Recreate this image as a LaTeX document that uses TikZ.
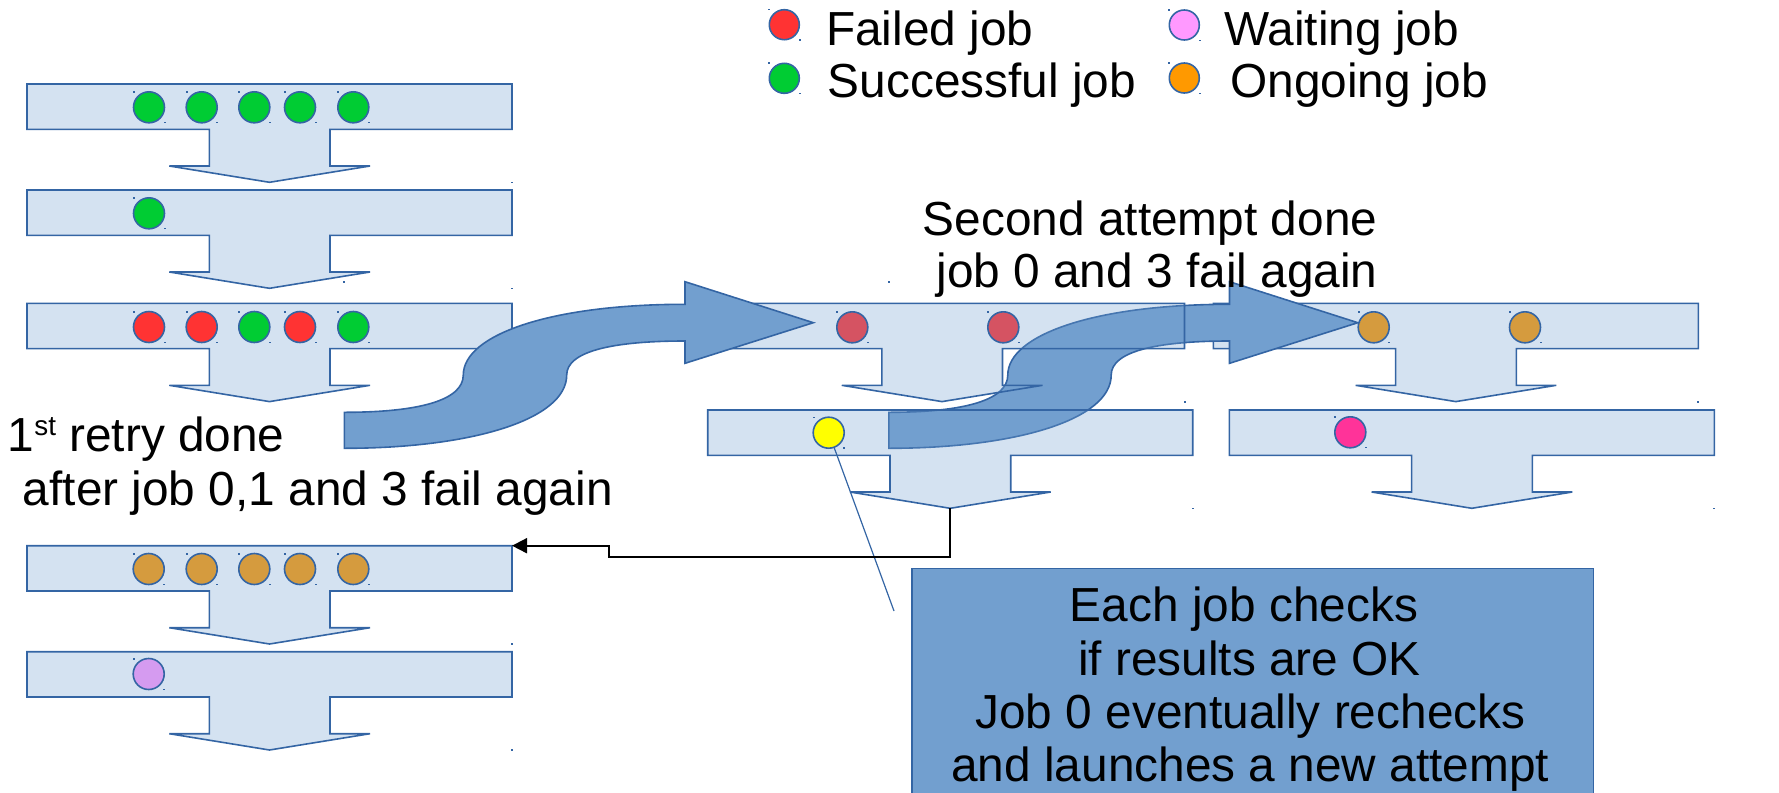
\documentclass[tikz,border=0pt]{standalone}
\usepackage{fontspec}
\setmainfont{Liberation Sans}
\usetikzlibrary{arrows.meta}

\definecolor{edgeblue}{HTML}{3465A4}
\definecolor{flowblue}{HTML}{729FCF}
\definecolor{okgreen}{HTML}{00CC33}
\definecolor{failred}{HTML}{FF3333}
\definecolor{waitpink}{HTML}{FF99FF}
\definecolor{runorange}{HTML}{FF9900}
\definecolor{runorangedim}{HTML}{D59B3E}
\definecolor{failreddim}{HTML}{D55362}
\definecolor{waitdim}{HTML}{D59BF0}
\definecolor{hotpink}{HTML}{FF3399}
\definecolor{jobyellow}{HTML}{FFFF00}

\tikzset{
  stage/.style={draw=edgeblue, line width=0.8pt, fill=flowblue, fill opacity=0.3, line join=miter},
  job/.style={circle, draw=edgeblue, line width=0.8pt, minimum size=15.5pt, inner sep=0pt},
  legendjob/.style={job, minimum size=15pt},
  hdl/.style={fill=edgeblue, draw=none},
  txt/.style={font=\fontsize{23.9}{28}\selectfont, inner sep=0pt, anchor=base west},
  bigarrow/.style={draw=edgeblue, line width=0.8pt, fill=flowblue, line join=miter},
  conn/.style={draw=black, line width=0.9pt, -{Triangle[length=7.5pt,width=7.5pt]}},
  pointer/.style={draw=edgeblue, line width=0.6pt},
  callout/.style={rectangle, draw=edgeblue, line width=0.8pt, fill=flowblue, inner sep=0pt},
  % one stage: a wide bar with a downward arrow below it
  pics/stage/.style={code={
    \path[stage] (0,0) -- (485,0) -- (485,45.3) -- (303,45.3) -- (303,82) -- (343,82)
      -- (242.5,98.3) -- (142.3,82) -- (182.3,82) -- (182.3,45.3) -- (0,45.3) -- cycle;
    \coordinate (-tip) at (242.5,98.3);
    \coordinate (-ne) at (485,0);
    \fill[hdl] (484,97.6) rectangle ++(2,1.6);
  }},
  % S-shaped block arrow
  pics/sarrow/.style={code={
    \path[bigarrow] (344.3,412.3) .. controls (420,412.3) and (463.3,400) .. (463.3,375)
      .. controls (463.3,335) and (550,304.3) .. (685,304.3)
      -- (685,281.7) -- (813.3,322.7) -- (685,363.3) -- (685,341)
      .. controls (610,341) and (566.7,352) .. (566.7,375)
      .. controls (566.7,420) and (470,448.3) .. (344.3,448.3) -- cycle;
    \coordinate (-tip) at (813.3,322.7);
    \fill[hdl] (343.3,280.9) rectangle ++(2,1.6);
  }},
}

% a job dot with its two small corner handles
\newcommand\jobat[5][job]{%
  \node[#1, fill=#5] (#2) at (#3,#4) {};
  \fill[hdl] (#3-16,#4-16) rectangle ++(2,1.6);
  \fill[hdl] (#3+14.5,#4+14.5) rectangle ++(2,1.6);
}

\begin{document}
\begin{tikzpicture}[x=0.5pt, y=-0.5pt]
\useasboundingbox (0,0) rectangle (1779,793);
\clip (0,0) rectangle (1779,793);

% left column of stages
\pic (l1) at (27,84) {stage};
\pic (l2) at (27,190) {stage};
\pic (l3) at (27,303.3) {stage};
\pic (l4) at (27,545.7) {stage};
\pic (l5) at (27,651.7) {stage};

\jobat{a0}{149}{107.3}{okgreen}
\jobat{a1}{201.7}{107.3}{okgreen}
\jobat{a2}{254.3}{107.3}{okgreen}
\jobat{a3}{300}{107.3}{okgreen}
\jobat{a4}{353.3}{107.3}{okgreen}

\jobat{b0}{149}{213.3}{okgreen}

\jobat{c0}{149}{327}{failred}
\jobat{c1}{201.7}{327}{failred}
\jobat{c2}{254.3}{327}{okgreen}
\jobat{c3}{300}{327}{failred}
\jobat{c4}{353.3}{327}{okgreen}

\jobat{d0}{148.7}{569}{runorangedim}
\jobat{d1}{201.7}{569}{runorangedim}
\jobat{d2}{254.3}{569}{runorangedim}
\jobat{d3}{300}{569}{runorangedim}
\jobat{d4}{353.3}{569}{runorangedim}

\jobat{e0}{148.7}{674}{waitdim}

% right column of stages
\pic (r1) at (1213.3,303.3) {stage};
\pic (r2) at (1229.3,410) {stage};
\jobat{f0}{1373.7}{327.3}{runorangedim}
\jobat{f1}{1525}{327.3}{runorangedim}
\jobat{g0}{1350.3}{432.3}{hotpink}

% second retry arrow
\pic (sa2) at (544.5,0) {sarrow};

% middle column of stages
\pic (m1) at (699.5,303.3) {stage};
\pic (m2) at (707.7,410) {stage};
\jobat{h0}{852.3}{327.3}{failreddim}
\jobat{h1}{1003.3}{327.3}{failreddim}
\jobat{k0}{828.7}{432.7}{jobyellow}

% first retry arrow
\pic (sa1) at (0,0) {sarrow};

% legend
\jobat[legendjob]{lgf}{784.3}{24.7}{failred}
\node[txt] (lgft) at (825.8,45) {Failed job};
\jobat[legendjob]{lgs}{784.3}{78.3}{okgreen}
\node[txt] (lgst) at (827.4,97) {Successful job};
\jobat[legendjob]{lgw}{1184.3}{25}{waitpink}
\node[txt] (lgwt) at (1224,45) {Waiting job};
\jobat[legendjob]{lgo}{1184.3}{78}{runorange}
\node[txt] (lgot) at (1230,97) {Ongoing job};

% captions
\node[txt] (cap1a) at (7.5,451.7) {1\raisebox{0.33em}{\fontsize{13.9}{14}\selectfont st} retry done};
\node[txt] (cap1b) at (22.5,505) {after job 0,1 and 3 fail again};
\node[txt] (cap2a) at (922.5,235) {Second attempt done};
\node[txt] (cap2b) at (936,287.3) {job 0 and 3 fail again};

% note box
\node[callout, anchor=north west, minimum width=340.8pt, minimum height=118pt] (note) at (911,567.7) {};
\node[txt, anchor=base] (note1) at (1244,621.7) {Each job checks};
\node[txt, anchor=base] (note2) at (1249.5,675) {if results are OK};
\node[txt, anchor=base] (note3) at (1250.4,728.3) {Job 0 eventually rechecks};
\node[txt, anchor=base] (note4) at (1250.3,781.7) {and launches a new attempt};

% pointer from job 0 to the note
\coordinate (ptr) at (894,611);
\draw[pointer] (k0) -- (ptr);

% relaunch connector back to the left column
\coordinate (bend) at (609,556.7);
\draw[conn] (m2-tip) |- (bend) |- (l4-ne);
\end{tikzpicture}
\end{document}
